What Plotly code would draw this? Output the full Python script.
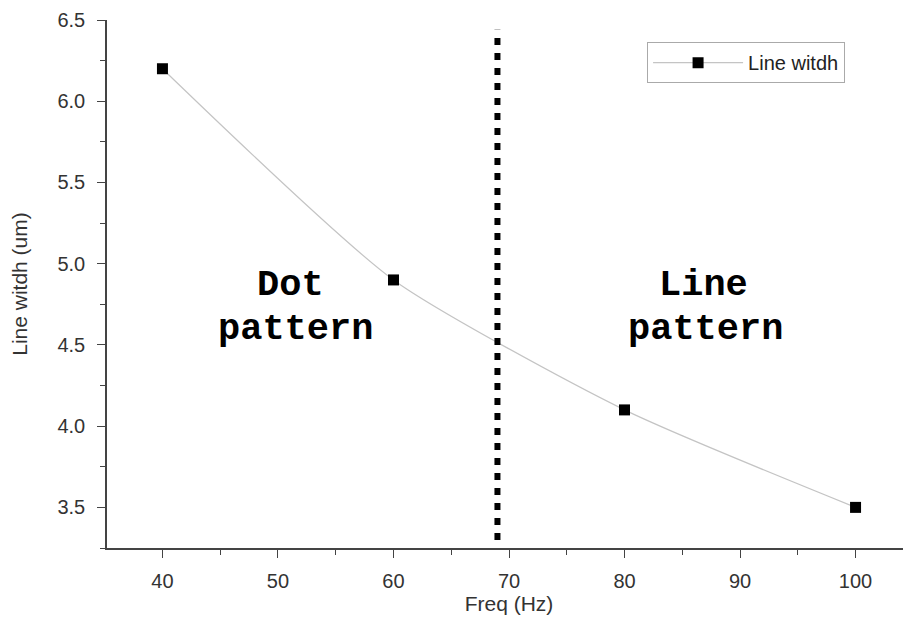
import plotly.graph_objects as go

freq = [40, 60, 80, 100]
line_width = [6.2, 4.9, 4.1, 3.5]
series_name = "Line witdh"
divider_x = [69, 69]
divider_y = [3.3, 6.44]
region_labels = [("Dot", 51.1, 4.87), ("pattern", 51.5, 4.595),
                 ("Line", 86.8, 4.87), ("pattern", 87.0, 4.595)]

fig = go.Figure()
fig.add_trace(go.Scatter(
    x=freq, y=line_width, mode="lines+markers", name=series_name,
    line=dict(color="#c4c4c4", width=1.2, shape="spline", smoothing=0.6),
    marker=dict(symbol="square", size=11, color="black"),
))
fig.add_trace(go.Scatter(
    x=divider_x, y=divider_y, mode="lines", showlegend=False,
    line=dict(color="black", width=6, dash="7px,8px"), hoverinfo="skip",
))
for txt, x, y in region_labels:
    fig.add_annotation(x=x, y=y, xref="x", yref="y", text=f"<b>{txt}</b>",
                       showarrow=False, xanchor="center", yanchor="middle",
                       borderpad=0,
                       font=dict(family="Liberation Mono, Courier New, monospace",
                                 size=37, color="black"))

axis_common = dict(showline=True, linecolor="#444", linewidth=1.5,
                   ticks="outside", tickcolor="#444", ticklen=8, tickwidth=1.2,
                   showgrid=False, zeroline=False, automargin=False,
                   tickfont=dict(family="Liberation Sans, Arial", size=20, color="#333"),
                   title_font=dict(family="Liberation Sans, Arial", size=21, color="#333"))

fig.update_layout(
    width=903, height=623,
    margin=dict(l=99, r=0, t=12, b=83),
    plot_bgcolor="white", paper_bgcolor="white",
    xaxis=dict(range=[35.2, 104.8], tickvals=[40, 50, 60, 70, 80, 90, 100],
               minor=dict(dtick=5, tick0=0, ticks="outside", ticklen=5, tickcolor="#444"),
               ticklabelstandoff=6,
               title=dict(text="Freq (Hz)", standoff=6), **axis_common),
    yaxis=dict(range=[3.25, 6.5], tickvals=[3.5, 4.0, 4.5, 5.0, 5.5, 6.0, 6.5],
               ticktext=["3.5", "4.0", "4.5", "5.0", "5.5", "6.0", "6.5"],
               minor=dict(dtick=0.25, tick0=0, ticks="outside", ticklen=5, tickcolor="#444"),
               ticklabelstandoff=8,
               title=dict(text="Line witdh (um)", standoff=24), **axis_common),
    legend=dict(x=0.918, y=0.958, xanchor="right", yanchor="top",
                bordercolor="#aaa", borderwidth=1, bgcolor="white", itemwidth=90,
                font=dict(family="Liberation Sans, Arial", size=20, color="#222")),
    showlegend=True,
)
fig.write_html("out.html")
